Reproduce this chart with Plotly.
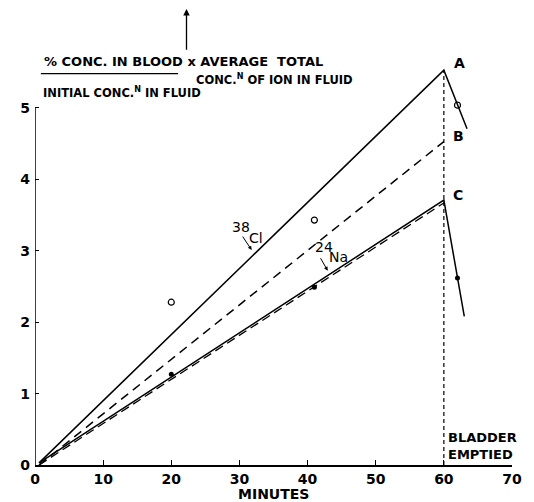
import plotly.graph_objects as go

# ---- data ----
time_pts = [20, 41, 62]
cl_pts = [2.28, 3.43, 5.04]          # open circles (38Cl)
na_pts = [1.27, 2.49, 2.62]          # filled dots (24Na)

line_A_x = [0.6, 60, 63.4]
line_A_y = [0.03, 5.53, 4.71]
line_B_x = [0.6, 60]
line_B_y = [0.0, 4.53]
line_C_x = [0.6, 60, 63.0]
line_C_y = [0.03, 3.71, 2.08]
line_C2_x = [0.6, 60]
line_C2_y = [0.0, 3.67]
empty_x = [60, 60]
empty_y = [0, 5.53]

x_ticks = [0, 10, 20, 30, 40, 50, 60, 70]
y_ticks = [0, 1, 2, 3, 4, 5]

FONT = "DejaVu Sans"
fig = go.Figure()

fig.add_trace(go.Scatter(x=empty_x, y=empty_y, mode="lines",
                         line=dict(color="black", width=1.2, dash="4px,3px")))
fig.add_trace(go.Scatter(x=line_A_x, y=line_A_y, mode="lines",
                         line=dict(color="black", width=1.5)))
fig.add_trace(go.Scatter(x=line_B_x, y=line_B_y, mode="lines",
                         line=dict(color="black", width=1.5, dash="9px,6px")))
fig.add_trace(go.Scatter(x=line_C_x, y=line_C_y, mode="lines",
                         line=dict(color="black", width=1.5)))
fig.add_trace(go.Scatter(x=line_C2_x, y=line_C2_y, mode="lines",
                         line=dict(color="black", width=1.3, dash="9px,5px")))
fig.add_trace(go.Scatter(x=time_pts, y=cl_pts, mode="markers",
                         marker=dict(symbol="circle-open", size=6, color="black",
                                     line=dict(width=1.2))))
fig.add_trace(go.Scatter(x=time_pts, y=na_pts, mode="markers",
                         marker=dict(symbol="circle", size=5, color="black")))

# y axis line (only up to 5)
fig.add_shape(type="line", xref="x", yref="y", x0=0, x1=0, y0=0, y1=5,
              line=dict(color="black", width=1.5))
# fraction bar of the axis title
fig.add_shape(type="line", xref="x", yref="y", x0=0.86, x1=21.0, y0=5.48, y1=5.48,
              line=dict(color="black", width=1.3))

ann = []
def txt(x, y, t, size=13, xanchor="left", yanchor="middle", align="left",
        yref="y", xref="x", weight="bold"):
    ann.append(dict(x=x, y=y, xref=xref, yref=yref, text=t, showarrow=False,
                    xanchor=xanchor, yanchor=yanchor, align=align,
                    font=dict(family=FONT, size=size, color="black", weight=weight)))

txt(0.96, 5.65, "% CONC. IN BLOOD x AVERAGE  TOTAL", size=13)
txt(23.4, 5.40, "CONC.<sup>N</sup> OF ION IN FLUID", size=11.5)
txt(0.86, 5.22, "INITIAL CONC.<sup>N</sup> IN FLUID", size=11.5)
txt(61.2, 5.63, "A", size=14)
txt(61.0, 4.61, "B", size=14)
txt(61.0, 3.78, "C", size=14)
txt(60.3, 0.26, "BLADDER<br>EMPTIED", size=13)
txt(0.5, -0.071, "MINUTES", size=14, xanchor="center", xref="paper", yref="paper")
txt(30.29, 3.33, "38", size=14, xanchor="center", weight="normal")
txt(32.4, 3.18, "Cl", size=14, xanchor="center", weight="normal")
txt(42.36, 3.06, "24", size=14, xanchor="center", weight="normal")
txt(44.5, 2.92, "Na", size=14, xanchor="center", weight="normal")

# arrows
ann.append(dict(x=0.3176, y=1.125, xref="paper", yref="paper", ax=0, ay=44, text="",
                showarrow=True, arrowhead=2, arrowsize=1, arrowwidth=1.3, arrowcolor="black"))
ann.append(dict(x=31.8, y=3.01, xref="x", yref="y", ax=-10, ay=-15, text="",
                showarrow=True, arrowhead=2, arrowsize=0.8, arrowwidth=1, arrowcolor="black"))
ann.append(dict(x=42.96, y=2.72, xref="x", yref="y", ax=-8, ay=-14, text="",
                showarrow=True, arrowhead=2, arrowsize=0.8, arrowwidth=1, arrowcolor="black"))

fig.update_layout(
    width=526, height=494,
    margin=dict(l=23, r=13, t=50, b=37),
    paper_bgcolor="white", plot_bgcolor="white",
    showlegend=False,
    annotations=ann,
    xaxis=dict(range=[0, 70], tickvals=x_ticks, ticktext=[str(v) for v in x_ticks],
               showgrid=False, zeroline=False, showline=True, linecolor="black",
               linewidth=1.5, ticks="inside", ticklen=5, tickcolor="black",
               tickfont=dict(family=FONT, size=14, color="black", weight="bold")),
    yaxis=dict(range=[0, 5.7], tickvals=y_ticks, ticktext=[str(v) for v in y_ticks],
               showgrid=False, zeroline=False, showline=False,
               ticks="inside", ticklen=4, tickcolor="black",
               ticklabelstandoff=4,
               tickfont=dict(family=FONT, size=14, color="black", weight="bold")),
)

fig.write_html("out.html")
